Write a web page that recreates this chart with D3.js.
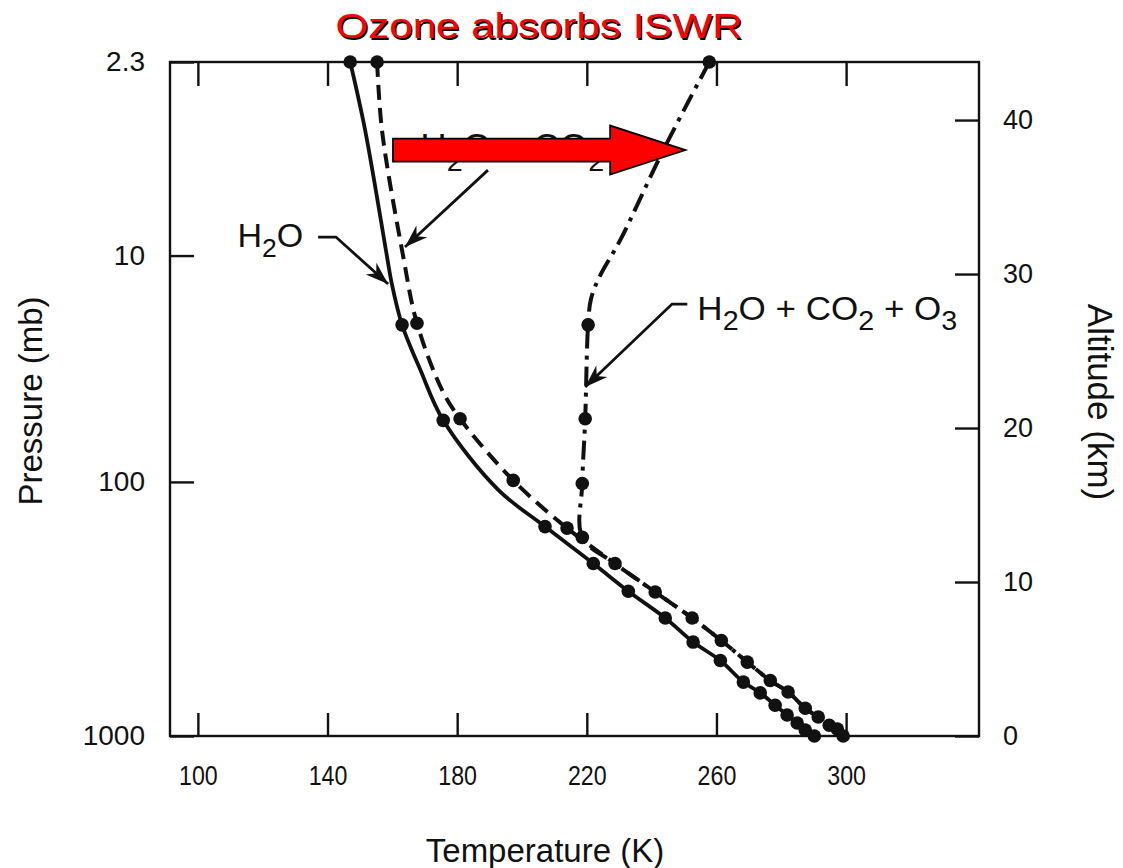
<!DOCTYPE html>
<html>
<head>
<meta charset="utf-8">
<script src="https://cdn.jsdelivr.net/npm/d3@7"></script>
<style>
  body { margin: 0; background: #ffffff; }
  svg { display: block; }
  text { font-family: "Liberation Sans", Arial, Helvetica, sans-serif; fill: #111; }
</style>
</head>
<body>
<svg id="chart" width="1123" height="868"></svg>
<script>
// ---- Axis ticks ----
const tempTicks = [100, 140, 180, 220, 260, 300];          // K
const altTicks = [0, 10, 20, 30, 40];                      // km (right axis)
const pressureLabels = ["1000", "100", "10", "2.3"];       // mb (left axis)
const pressureAlt = [0, 16.5, 31.2, 43.77];                // km where each pressure sits

// ---- Radiative-equilibrium profiles: altitude (km), temperature (K), marker flag ----
// H2O only (solid)
const h2oAlt  = [43.77, 39.35, 31.2, 29.4, 26.7, 23.8, 20.5, 16.0, 13.6, 11.2, 9.4, 7.66, 6.1, 4.9, 3.5, 2.8, 2.0, 1.36, 0.84, 0.39, 0];
const h2oTemp = [147.0, 151.6, 158.3, 159.8, 163.0, 168.6, 175.7, 192.6, 207.1, 222.0, 232.8, 244.2, 252.8, 261.2, 268.3, 273.5, 278.1, 281.8, 284.9, 287.4, 290.2];
const h2oDot  = [1, 0, 0, 0, 1, 0, 1, 0, 1, 1, 1, 1, 1, 1, 1, 1, 1, 1, 1, 1, 1];

// H2O + CO2 (dashed)
const co2Alt  = [43.77, 39.35, 31.2, 26.8, 22.4, 20.6, 16.6, 13.5, 11.2, 9.35, 7.66, 6.2, 4.8, 3.6, 2.86, 1.8, 1.23, 0.7, 0.45, 0];
const co2Temp = [155.3, 156.8, 163.3, 167.6, 175.5, 180.9, 197.3, 213.9, 228.7, 241.1, 252.5, 261.5, 269.5, 276.6, 282.1, 287.4, 291.4, 294.8, 297.3, 299.1];
const co2Dot  = [1, 0, 0, 1, 0, 1, 1, 1, 1, 1, 1, 1, 1, 1, 1, 1, 1, 1, 1, 1];

// H2O + CO2 + O3 (dash-dot); below its last level it follows the H2O + CO2 profile
const o3Alt  = [43.77, 38.05, 32.2, 29.9, 28.4, 26.7, 20.6, 16.4, 12.9];
const o3Temp = [257.8, 243.6, 230.3, 224.1, 221.3, 220.4, 219.5, 218.6, 218.6];
const o3Dot  = [1, 0, 0, 0, 0, 1, 1, 1, 1];

// ---- Annotation anchors: [temperature K, altitude km] ----
const leaderH2O = [[137.1, 32.4], [142.6, 32.4], [158.7, 29.35]];
const leaderCO2 = [[189.5, 36.75], [163.9, 31.75]];
const leaderO3  = [[251.0, 28.05], [246.3, 28.05], [219.5, 22.66]];
const labelH2OAt = [112.2, 31.75];
const labelCO2At = [168.6, 37.42];
const labelO3At  = [254.1, 27.0];
const redArrowTemp = [160.2, 227.2, 250.4];   // tail, head base, tip
const redArrowAlt = 38.05;

// ---- Layout ----
const svg = d3.select("#chart");
const frame = { left: 170, right: 979, top: 62, bottom: 736 };

const x = d3.scaleLinear().domain([91.4, 341]).range([frame.left, frame.right]);
const y = d3.scaleLinear().domain([0, 43.77]).range([frame.bottom, frame.top]);

svg.append("rect").attr("width", 1123).attr("height", 868).attr("fill", "#ffffff");

// arrowhead used by the leader lines
svg.append("defs").append("marker")
  .attr("id", "barb")
  .attr("viewBox", "-24 -10 26 20")
  .attr("refX", 0).attr("refY", 0)
  .attr("markerWidth", 26).attr("markerHeight", 20)
  .attr("markerUnits", "userSpaceOnUse")
  .attr("orient", "auto")
  .append("path")
  .attr("d", "M0,0 L-23,-8 L-16,0 L-23,8 Z")
  .attr("fill", "#111");

// ---- Frame and axes ----
const axisColor = "#111";

svg.append("rect")
  .attr("x", frame.left).attr("y", frame.top)
  .attr("width", frame.right - frame.left).attr("height", frame.bottom - frame.top)
  .attr("fill", "none").attr("stroke", axisColor).attr("stroke-width", 2.4);

function styleAxis(g) {
  g.select(".domain").remove();
  g.selectAll(".tick line").attr("stroke", axisColor).attr("stroke-width", 2.4);
  g.selectAll(".tick text").attr("fill", "#111");
}

// bottom temperature axis
svg.append("g")
  .attr("transform", `translate(0,${frame.bottom})`)
  .call(d3.axisBottom(x).tickValues(tempTicks).tickSize(-23).tickPadding(30))
  .call(styleAxis)
  .call(g => g.selectAll(".tick text")
    .attr("font-size", 27).attr("font-family", "Liberation Sans, Arial, sans-serif")
    .attr("transform", "scale(0.86,1)"));

// top ticks
svg.append("g")
  .attr("transform", `translate(0,${frame.top})`)
  .call(d3.axisTop(x).tickValues(tempTicks).tickSize(-24).tickFormat(""))
  .call(styleAxis);

// left pressure axis
svg.append("g")
  .attr("transform", `translate(${frame.left},0)`)
  .call(d3.axisLeft(y).tickValues(pressureAlt).tickSize(-24).tickPadding(25)
    .tickFormat((d, i) => pressureLabels[i]))
  .call(styleAxis)
  .call(g => g.selectAll(".tick text").attr("font-size", 28).attr("font-family", "Liberation Sans, Arial, sans-serif"));

// right altitude axis
svg.append("g")
  .attr("transform", `translate(${frame.right},0)`)
  .call(d3.axisRight(y).tickValues(altTicks).tickSize(-24).tickPadding(24))
  .call(styleAxis)
  .call(g => g.selectAll(".tick text").attr("font-size", 27).attr("font-family", "Liberation Sans, Arial, sans-serif"));

// axis titles
svg.append("text")
  .attr("x", (x(100) + x(300)) / 2 + 23).attr("y", 862)
  .attr("text-anchor", "middle").attr("font-size", 33)
  .text("Temperature (K)");

svg.append("text")
  .attr("transform", `translate(42,${(frame.top + frame.bottom) / 2 + 2}) rotate(-90)`)
  .attr("text-anchor", "middle").attr("font-size", 33)
  .text("Pressure (mb)");

svg.append("text")
  .attr("transform", `translate(1088,${(frame.top + frame.bottom) / 2 + 3}) rotate(90)`)
  .attr("text-anchor", "middle").attr("font-size", 35)
  .text("Altitude (km)");

// ---- Profiles ----
function series(alt, temp, flags) {
  return alt.map((a, i) => ({ alt: a, temp: temp[i], dot: flags[i] === 1 }));
}
const h2o = series(h2oAlt, h2oTemp, h2oDot);
const co2 = series(co2Alt, co2Temp, co2Dot);
const o3Upper = series(o3Alt, o3Temp, o3Dot);
const o3 = o3Upper.concat(co2.filter(d => d.alt < o3Alt[o3Alt.length - 1]).map(d => ({ ...d, dot: false })));

const line = d3.line()
  .x(d => x(d.temp))
  .y(d => y(d.alt))
  .curve(d3.curveCatmullRom.alpha(0.5));

const plot = svg.append("g");

plot.append("path").datum(h2o).attr("d", line)
  .attr("fill", "none").attr("stroke", "#111").attr("stroke-width", 3.8);

plot.append("path").datum(co2).attr("d", line)
  .attr("fill", "none").attr("stroke", "#111").attr("stroke-width", 4)
  .attr("stroke-dasharray", "15,8");

plot.append("path").datum(o3).attr("d", line)
  .attr("fill", "none").attr("stroke", "#111").attr("stroke-width", 4)
  .attr("stroke-dasharray", "19,7,4,7");

[h2o, co2, o3Upper].forEach(s => {
  plot.selectAll(null).data(s.filter(d => d.dot)).join("circle")
    .attr("cx", d => x(d.temp)).attr("cy", d => y(d.alt))
    .attr("r", 6.8).attr("fill", "#111");
});

// ---- Curve labels with leader arrows ----
const leader = d3.line().x(d => x(d[0])).y(d => y(d[1]));

[leaderH2O, leaderCO2, leaderO3].forEach(pts => {
  svg.append("path").attr("d", leader(pts))
    .attr("fill", "none").attr("stroke", "#111").attr("stroke-width", 2.8)
    .attr("marker-end", "url(#barb)");
});

function chemLabel(at, parts, size, subScale, stretch) {
  const t = svg.append("text")
    .attr("transform", `translate(${x(at[0])},${y(at[1])}) scale(${stretch},1)`)
    .attr("font-size", size);
  let inSub = false;
  parts.forEach(([s, sub]) => {
    const span = t.append("tspan").text(s);
    if (sub) {
      span.attr("font-size", size * subScale).attr("dy", inSub ? 0 : size * 0.3);
    } else {
      span.attr("dy", inSub ? -size * 0.3 : 0);
    }
    inSub = sub;
  });
  return t;
}

chemLabel(labelH2OAt, [["H", 0], ["2", 1], ["O", 0]], 34, 0.78, 1.0);
chemLabel(labelCO2At, [["H", 0], ["2", 1], ["O + CO", 0], ["2", 1]], 36, 0.78, 1.02);
chemLabel(labelO3At, [["H", 0], ["2", 1], ["O + CO", 0], ["2", 1], [" + O", 0], ["3", 1]], 34, 0.82, 1.03);

// ---- Red arrow and headline ----
const ay = y(redArrowAlt);
const [ax0, ax1, ax2] = redArrowTemp.map(x);
const bodyHalf = 11.5, headHalf = 24.5;
svg.append("polygon")
  .attr("points", [
    [ax0, ay - bodyHalf], [ax1, ay - bodyHalf], [ax1, ay - headHalf], [ax2, ay],
    [ax1, ay + headHalf], [ax1, ay + bodyHalf], [ax0, ay + bodyHalf]
  ].map(p => p.join(",")).join(" "))
  .attr("fill", "#ff0000").attr("stroke", "#000").attr("stroke-width", 1.8)
  .attr("stroke-linejoin", "miter");

const title = "Ozone absorbs ISWR";
svg.append("text")
  .attr("transform", "translate(540.5,39.5) scale(1.17,1)")
  .attr("text-anchor", "middle").attr("font-size", 36)
  .style("fill", "#000")
  .text(title);
svg.append("text")
  .attr("transform", "translate(539,38) scale(1.17,1)")
  .attr("text-anchor", "middle").attr("font-size", 36)
  .style("fill", "#ff0000")
  .text(title);
</script>
</body>
</html>
